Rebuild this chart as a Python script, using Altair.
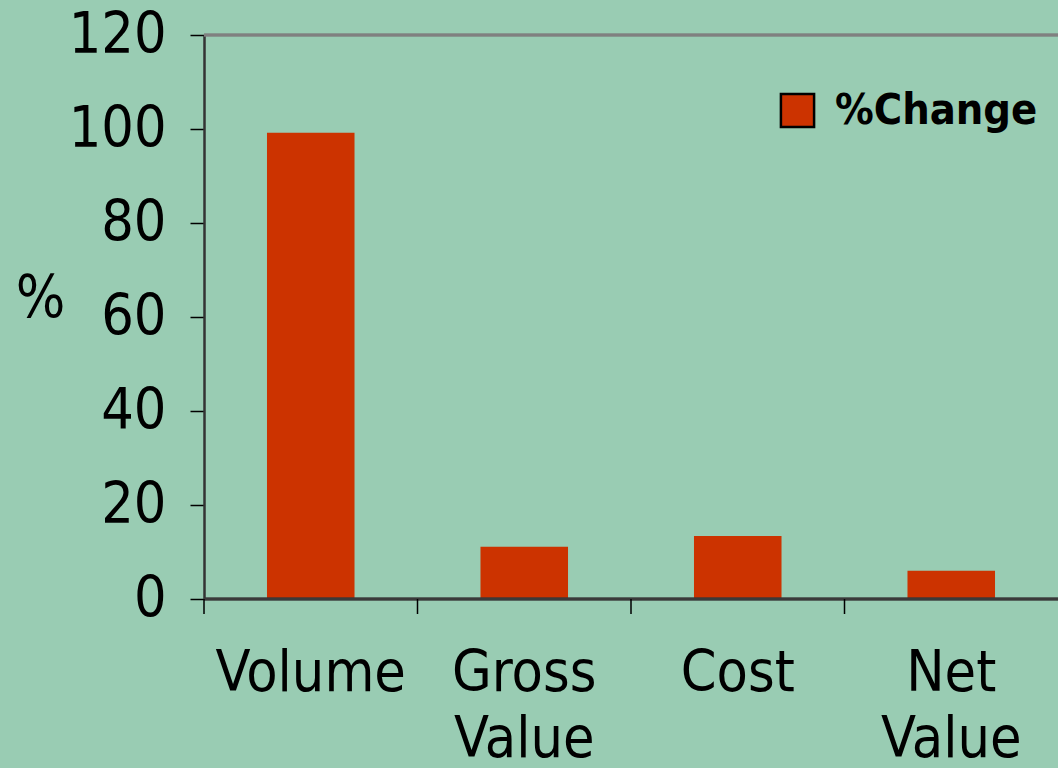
import altair as alt
import pandas as pd

categories = ["Volume", "Gross Value", "Cost", "Net Value"]
pct_change = [99.2, 11.1, 13.4, 6.0]
series_name = "%Change"
y_ticks = [0, 20, 40, 60, 80, 100, 120]

df = pd.DataFrame({"category": categories, "value": pct_change, "series": [series_name] * len(categories)})

FONT = "DejaVu Sans Condensed, DejaVu Sans"
W, H = 854, 564

x_scale = alt.Scale(domain=categories, paddingInner=0, paddingOuter=0)

bars = alt.Chart(df).mark_bar(width=alt.RelativeBandSize(0.41), color="#CC3300").encode(
    x=alt.X("category:N", scale=x_scale, sort=categories,
            axis=alt.Axis(title=None, labelAngle=0, ticks=False, domain=False,
                          labelExpr="split(datum.label, ' ')",
                          labelFont=FONT, labelFontSize=57, labelColor="#000000",
                          labelLineHeight=66, labelPadding=91, labelBaseline="alphabetic",
                          labelLimit=400, labelOverlap=False)),
    y=alt.Y("value:Q", scale=alt.Scale(domain=[0, 120], nice=False),
            axis=alt.Axis(title="%", values=y_ticks, titleAngle=0, titleX=-164, titleY=264,
                          titleAlign="center", titleBaseline="middle",
                          titleFont=FONT, titleFontSize=58, titleFontWeight="normal", titleColor="#000000",
                          labelFont=FONT, labelFontSize=57, labelColor="#000000", labelPadding=24,
                          tickSize=14, tickColor="#000000", tickWidth=1.5,
                          domainColor="#333333", domainWidth=2.5, grid=False)),
    fill=alt.Fill("series:N", scale=alt.Scale(range=["#CC3300"]),
                  legend=alt.Legend(title=None, orient="none", legendX=572, legendY=54,
                                    symbolType="square", symbolSize=1100,
                                    symbolStrokeColor="#000000", symbolStrokeWidth=2.5,
                                    labelFont=FONT, labelFontSize=43, labelFontWeight="bold",
                                    labelColor="#000000", labelOffset=16, labelLimit=400)),
)

# category boundary tick marks below the x axis
ticks = alt.Chart(df).mark_rule(color="#000000", strokeWidth=1.5).encode(
    x=alt.X("category:N", scale=x_scale, sort=categories, bandPosition=0),
    y=alt.value(H),
    y2=alt.value(H + 15),
)

baseline = alt.Chart(df).mark_rule(color="#3a3a3a", strokeWidth=2.5).encode(
    x=alt.value(0), x2=alt.value(W), y=alt.value(H)
)
top_border = alt.Chart(df).mark_rule(color="#808080", strokeWidth=2.5).encode(
    x=alt.value(0), x2=alt.value(W), y=alt.value(0)
)

chart = alt.layer(bars, top_border, baseline, ticks).properties(
    width=W, height=H,
    background="#99CCB3",
    autosize=alt.AutoSizeParams(type="none"),
    padding={"left": 204, "top": 35, "right": 0, "bottom": 169},
).configure_view(stroke=None)

chart.save("out.html", embed_options={"renderer": "svg", "actions": False})
